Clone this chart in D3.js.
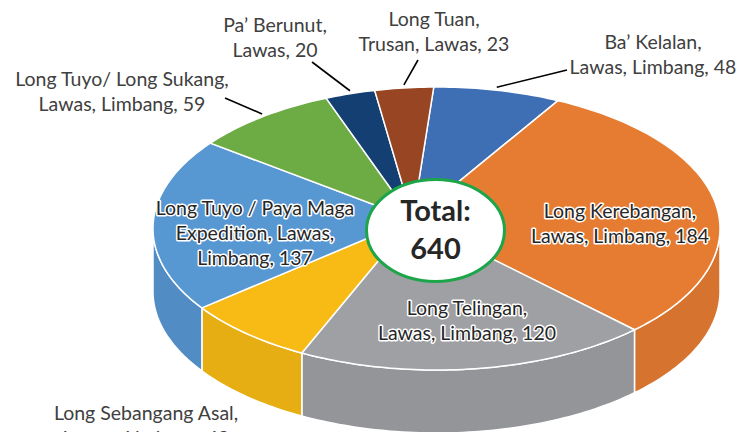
<!DOCTYPE html>
<html>
<head>
<meta charset="utf-8">
<script src="https://cdn.jsdelivr.net/npm/d3@7"></script>
<style>
  body { margin: 0; background: #fff; }
  svg { display: block; font-family: Lato, "Open Sans", sans-serif; }
</style>
</head>
<body>
<div id="chart"></div>
<script>
// data
const names = ["Ba’ Kelalan", "Long Kerebangan", "Long Telingan", "Long Sebangang Asal",
  "Long Tuyo / Paya Maga Expedition", "Long Tuyo/ Long Sukang", "Pa’ Berunut", "Long Tuan"];
const places = ["Lawas, Limbang", "Lawas, Limbang", "Lawas, Limbang", "Lawas, Limbang",
  "Lawas, Limbang", "Lawas, Limbang", "Lawas", "Trusan, Lawas"];
const values = [48, 184, 120, 49, 137, 59, 20, 23];
const colors = ["#3E6EB4", "#E67C31", "#9FA0A4", "#F8BB16", "#5797D2", "#6DAC45", "#133F73", "#974522"];
// word index after which each label wraps
const breaks = [[2], [2], [2], [3], [5, 7], [4], [2], [2]];

const width = 739;
const height = 432;

// pie geometry: rim ellipse, wall depth and the view point (projected centre)
const ecx = 436.5, ecy = 228.5, rx = 283.5, ry = 141.5, depth = 63;
const rot = 4.4 * Math.PI / 180;
const view = [-0.084, -0.065];

// projective (perspective) map of the unit disc onto the rim ellipse
const b2 = view[0] ** 2 + view[1] ** 2;
const gamma = 1 / Math.sqrt(1 - b2);
const project = (a, r = 1, h = 0) => {
  const ux = r * Math.sin(a + rot), uy = -r * Math.cos(a + rot);
  const pd = view[0] * ux + view[1] * uy;
  const w = gamma * (1 + pd);
  const k = (gamma - 1) * pd / b2 + gamma;
  const px = (ux + k * view[0]) / w;
  const py = (uy + k * view[1]) / w;
  return [ecx + px * rx, ecy + py * ry + h];
};
const centre = [ecx + view[0] * rx, ecy + view[1] * ry];

const svg = d3.select("#chart").append("svg")
  .attr("width", width)
  .attr("height", height);

const pie = d3.pie().sort(null).value((d) => d)(values);
const slices = pie.map((p, i) => ({ i, a0: p.startAngle, a1: p.endAngle }));

const arcPoints = (a0, a1, h = 0) => {
  const n = Math.max(2, Math.ceil((a1 - a0) / 0.02));
  return d3.range(n + 1).map((k) => project(a0 + (a1 - a0) * k / n, 1, h));
};

// outer walls: only where the rim faces the viewer (lower half of the ellipse)
const facing = (a) => project(a)[1] >= ecy;
slices.forEach((s) => {
  const steps = d3.range(0, 1.0001, 0.005).map((f) => s.a0 + (s.a1 - s.a0) * f);
  const vis = steps.filter(facing);
  if (vis.length < 2) return;
  const s0 = d3.min(vis), s1 = d3.max(vis);
  const top = arcPoints(s0, s1);
  const bottom = arcPoints(s0, s1, depth).reverse();
  svg.append("path")
    .attr("d", "M" + top.concat(bottom).join("L") + "Z")
    .attr("fill", d3.rgb(colors[s.i]).darker(0.2))
    .attr("stroke", "#fff")
    .attr("stroke-width", 1.5)
    .attr("stroke-linejoin", "round");
});

// top faces
slices.forEach((s) => {
  const pts = arcPoints(s.a0, s.a1);
  svg.append("path")
    .attr("d", `M${centre}L` + pts.join("L") + "Z")
    .attr("fill", colors[s.i])
    .attr("stroke", "#fff")
    .attr("stroke-width", 1.5)
    .attr("stroke-linejoin", "round");
});

// centre badge
svg.append("ellipse")
  .attr("cx", 435.5)
  .attr("cy", 230.5)
  .attr("rx", 69)
  .attr("ry", 51)
  .attr("fill", "#fff")
  .attr("stroke", "#1DA54A")
  .attr("stroke-width", 3);

const total = d3.sum(values);
[["Total:", -19], [total, 19]].forEach(([txt, dy]) => {
  svg.append("text")
    .attr("x", 435.5).attr("y", 228.5 + dy)
    .attr("text-anchor", "middle").attr("dominant-baseline", "central")
    .style("font-size", "29px").style("font-weight", "bold").style("fill", "#262626")
    .text(txt);
});

// label layout: centre of first line, inside flag
const labelAt = [
  [653, 41, false], [620, 210, true], [467, 307, true], [146, 412, false],
  [255, 207, true], [122, 78, false], [275, 24, false], [434, 18, false]
];
// leader line ends (outside labels)
const leaderEnd = { 0: [567, 70], 5: [225, 98], 6: [312, 62], 7: [418, 60] };

slices.forEach((s) => {
  const words = `${names[s.i]}, ${places[s.i]}, ${values[s.i]}`.split(" ");
  const cuts = [0, ...breaks[s.i], words.length];
  const lines = d3.range(cuts.length - 1).map((k) => words.slice(cuts[k], cuts[k + 1]).join(" "));
  const [lx, ly, inside] = labelAt[s.i];

  const t = svg.append("text")
    .attr("text-anchor", "middle")
    .style("font-size", "19.5px")
    .style("fill", inside ? "#262626" : "#404040");
  if (inside) {
    t.attr("stroke", "#fff").attr("stroke-width", 3).attr("paint-order", "stroke")
      .attr("stroke-linejoin", "round");
  }
  lines.forEach((line, k) => {
    t.append("tspan")
      .attr("x", lx)
      .attr("y", ly + k * 25)
      .attr("dominant-baseline", "central")
      .text(line);
  });

  if (leaderEnd[s.i]) {
    const mid = (s.a0 + s.a1) / 2;
    const [x0, y0] = project(mid, 1.0, -3);
    const [x1, y1] = leaderEnd[s.i];
    svg.append("line")
      .attr("x1", x0).attr("y1", y0)
      .attr("x2", x1).attr("y2", y1)
      .attr("stroke", "#000")
      .attr("stroke-width", 1.6);
  }
});
</script>
</body>
</html>
